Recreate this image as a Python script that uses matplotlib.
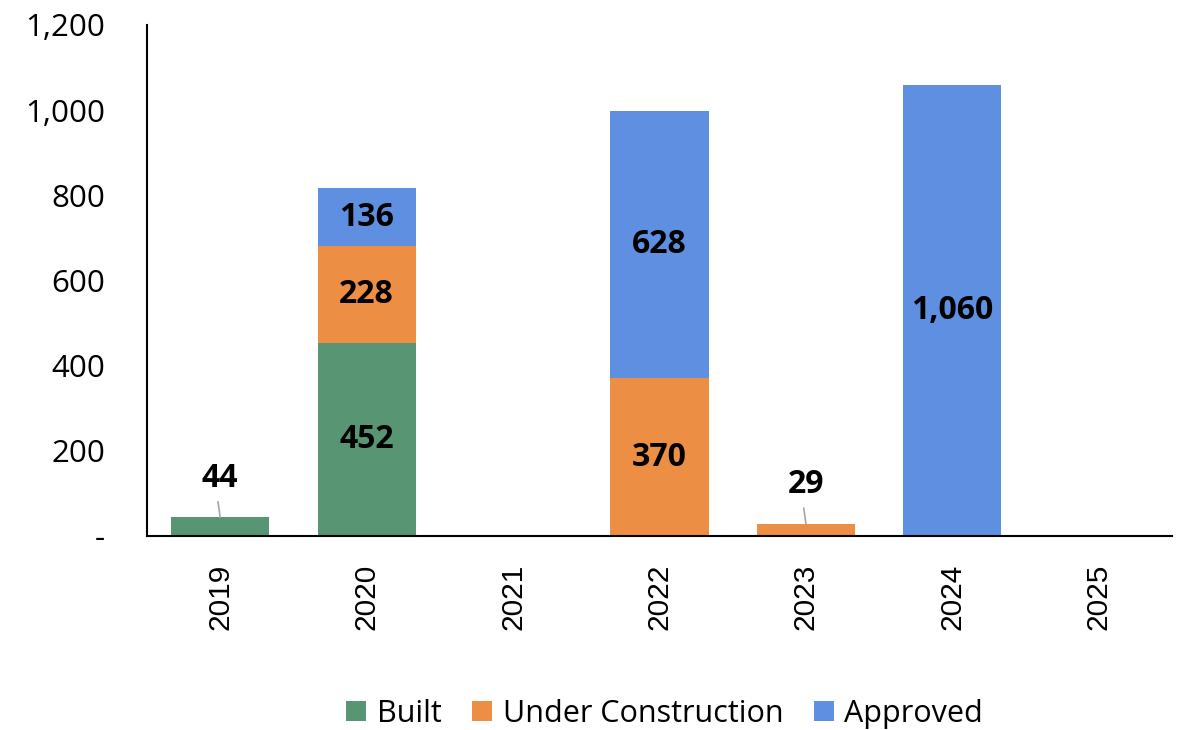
import matplotlib
matplotlib.use("Agg")
import matplotlib.pyplot as plt
import numpy as np
from matplotlib.ticker import FuncFormatter

years = ["2019", "2020", "2021", "2022", "2023", "2024", "2025"]
built = [44, 452, 0, 0, 0, 0, 0]
under_construction = [0, 228, 0, 370, 29, 0, 0]
approved = [0, 136, 0, 628, 0, 1060, 0]
series_names = ["Built", "Under Construction", "Approved"]
colors = ["#579573", "#ED8E45", "#5E8FE0"]

plt.rcParams["font.family"] = ["Open Sans", "DejaVu Sans"]

fig = plt.figure(figsize=(11.87, 7.30), dpi=100)
ax = fig.add_axes([0.1238, 0.2658, 0.8636, 0.7000])

x = np.arange(len(years))
w = 0.67
series = [built, under_construction, approved]
bottom = np.zeros(len(years))
for vals, c, name in zip(series, colors, series_names):
    v = np.array(vals, dtype=float)
    ax.bar(x, v, w, bottom=bottom, color=c, label=name, linewidth=0)
    for i, val in enumerate(v):
        if val <= 0:
            continue
        if val >= 100:
            ax.text(x[i], bottom[i] + val / 2, f"{int(val):,}", ha="center", va="center",
                    fontsize=23, fontweight="bold", color="black")
        else:
            top = bottom[i] + val
            ax.plot([x[i], x[i] - 0.015], [top, top + 36], color="#a6a6a6", lw=1.2)
            ax.text(x[i], top + 92, f"{int(val):,}", ha="center", va="center",
                    fontsize=23, fontweight="bold", color="black")
    bottom += v

ax.set_xlim(-0.5, len(years) - 0.5)
ax.set_ylim(0, 1200)
ax.set_yticks(np.arange(0, 1201, 200))
ax.yaxis.set_major_formatter(FuncFormatter(lambda v, p: "-" if v == 0 else f"{int(v):,}"))
ax.set_xticks(x)
ax.set_xticklabels(years, rotation=90, fontsize=21.5, family=["Liberation Sans", "DejaVu Sans"])
ax.tick_params(axis="y", length=0, pad=30, labelsize=22.5)
ax.tick_params(axis="x", length=0, pad=20)
for s in ["top", "right"]:
    ax.spines[s].set_visible(False)
ax.spines["left"].set_linewidth(1.5)
ax.spines["bottom"].set_linewidth(1.5)

fig.legend(loc="center", bbox_to_anchor=(0.56, 0.022), ncol=3, frameon=False,
           fontsize=22, handlelength=0.65, handleheight=0.65, handletextpad=0.35,
           columnspacing=1.0)

fig.savefig("out.png", dpi=100)
